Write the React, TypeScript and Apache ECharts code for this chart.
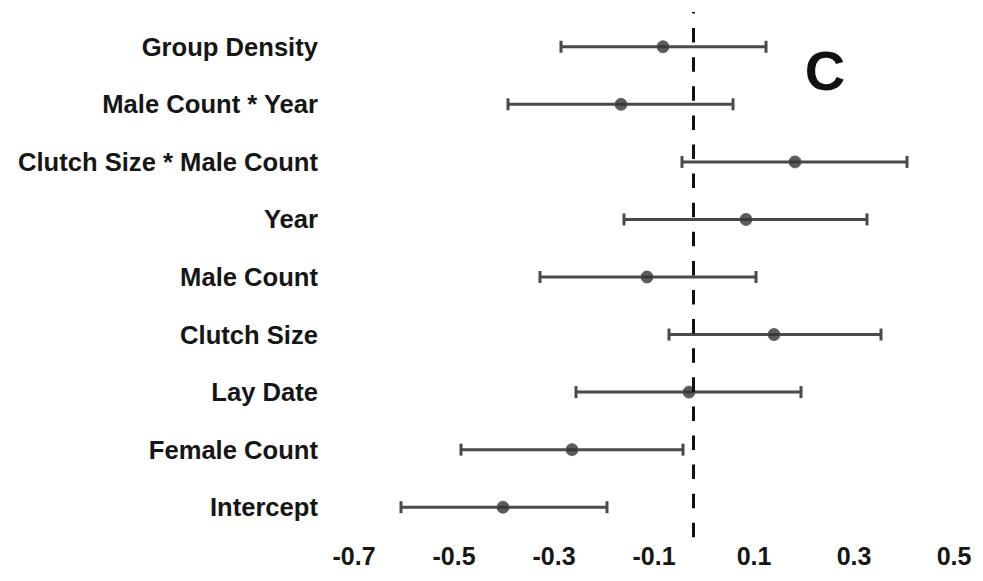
import React, { useEffect, useRef } from "react";
import * as echarts from "echarts";

// Model terms, bottom to top on the y axis
const terms = [
  "Intercept",
  "Female Count",
  "Lay Date",
  "Clutch Size",
  "Male Count",
  "Year",
  "Clutch Size * Male Count",
  "Male Count * Year",
  "Group Density",
];

// Coefficient estimates and their interval bounds
const estimates = [-0.402, -0.264, -0.03, 0.14, -0.114, 0.084, 0.182, -0.166, -0.082];
const lowerBounds = [-0.606, -0.486, -0.256, -0.07, -0.328, -0.16, -0.044, -0.392, -0.286];
const upperBounds = [-0.194, -0.042, 0.194, 0.354, 0.104, 0.326, 0.406, 0.058, 0.124];

// Axis tick labels and the dashed reference position
const xTicks = [-0.7, -0.5, -0.3, -0.1, 0.1, 0.3, 0.5];
const referenceValue = -0.021;
const panelLetter = "C";

const FONT = "'Liberation Sans', Arial, Helvetica, sans-serif";
const INK = "#161616";
const BAR = "#4a4a4a";

export default function App() {
  const ref = useRef<HTMLDivElement>(null);

  useEffect(() => {
    if (!ref.current) return;
    const chart = echarts.init(ref.current, null, { renderer: "svg" });

    const intervalData = terms.map((_, i) => [i, lowerBounds[i], upperBounds[i]]);
    const pointData = terms.map((_, i) => [estimates[i], i]);

    chart.setOption({
      animation: false,
      backgroundColor: "#ffffff",
      grid: { left: 329, right: 4, top: 18, bottom: 45 },
      xAxis: {
        type: "value",
        min: -0.75,
        max: 0.55,
        splitLine: { show: false },
        axisLine: { show: false },
        axisTick: { show: false },
        axisLabel: {
          customValues: xTicks,
          formatter: (v: number) => v.toFixed(1),
          fontFamily: FONT,
          fontWeight: "bold",
          fontSize: 25,
          color: INK,
          margin: 7,
        },
      },
      yAxis: {
        type: "category",
        data: terms,
        axisLine: { show: false },
        axisTick: { show: false },
        splitLine: { show: false },
        axisLabel: {
          fontFamily: FONT,
          fontWeight: "bold",
          fontSize: 25.6,
          color: INK,
          margin: 11,
        },
      },
      graphic: [
        {
          type: "text",
          x: 825,
          y: 70,
          style: {
            text: panelLetter,
            font: `bold 56px ${FONT}`,
            fill: "#111",
            align: "center",
            verticalAlign: "middle",
          },
        },
      ],
      series: [
        {
          // dashed vertical reference line, a little taller than the plot area
          type: "custom",
          data: [[referenceValue, 0]],
          encode: { x: 0, y: 1 },
          z: 4,
          silent: true,
          renderItem: (params: any, api: any) => {
            const x = api.coord([api.value(0), 0])[0];
            const cs = params.coordSys;
            return {
              type: "line",
              shape: { x1: x, y1: cs.y - 6, x2: x, y2: cs.y + cs.height + 6 },
              style: {
                stroke: "#111",
                lineWidth: 3,
                lineDash: [14.5, 14.6],
                lineDashOffset: 12.5,
              },
            };
          },
        },
        {
          type: "custom",
          data: intervalData,
          encode: { x: [1, 2], y: 0 },
          z: 2,
          renderItem: (_params: any, api: any) => {
            const row = api.value(0);
            const a = api.coord([api.value(1), row]);
            const b = api.coord([api.value(2), row]);
            const cap = 6;
            const style = { stroke: BAR, lineWidth: 3 };
            return {
              type: "group",
              children: [
                { type: "line", shape: { x1: a[0], y1: a[1], x2: b[0], y2: b[1] }, style },
                { type: "line", shape: { x1: a[0], y1: a[1] - cap, x2: a[0], y2: a[1] + cap }, style },
                { type: "line", shape: { x1: b[0], y1: b[1] - cap, x2: b[0], y2: b[1] + cap }, style },
              ],
            };
          },
        },
        {
          type: "scatter",
          data: pointData,
          symbol: "circle",
          symbolSize: 12,
          z: 3,
          itemStyle: { color: "#333333", borderColor: "#555", borderWidth: 1 },
        },
      ],
    });

    return () => chart.dispose();
  }, []);

  return (
    <div
      ref={ref}
      style={{ position: "fixed", left: 0, top: 0, width: 983, height: 581, background: "#fff" }}
    />
  );
}
